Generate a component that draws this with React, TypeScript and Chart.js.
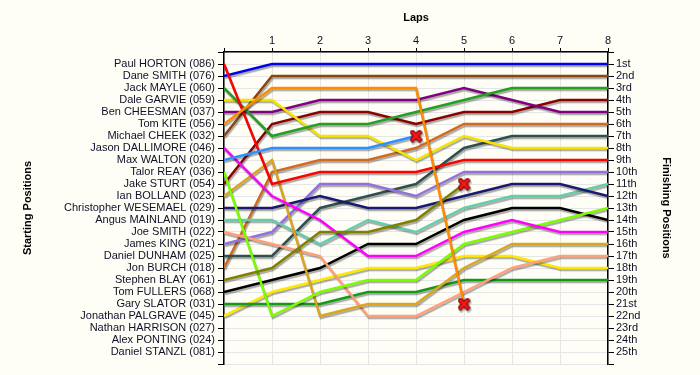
import React, { useEffect, useRef } from 'react';
import { Chart, registerables } from 'chart.js';

Chart.register(...registerables);

const BG = '#fefef6';
const FONT = '"Liberation Sans", Arial, sans-serif';
const TEXT = '#101028';

const laps = [0, 1, 2, 3, 4, 5, 6, 7, 8];

const driverNames = [
  'Paul HORTON (086)', 'Dane SMITH (076)', 'Jack MAYLE (060)', 'Dale GARVIE (059)',
  'Ben CHEESMAN (037)', 'Tom KITE (056)', 'Michael CHEEK (032)', 'Jason DALLIMORE (046)',
  'Max WALTON (020)', 'Talor REAY (036)', 'Jake STURT (054)', 'Ian BOLLAND (023)',
  'Christopher WESEMAEL (029)', 'Angus MAINLAND (019)', 'Joe SMITH (022)', 'James KING (021)',
  'Daniel DUNHAM (025)', 'Jon BURCH (018)', 'Stephen BLAY (061)', 'Tom FULLERS (068)',
  'Gary SLATOR (031)', 'Jonathan PALGRAVE (045)', 'Nathan HARRISON (027)', 'Alex PONTING (024)',
  'Daniel STANZL (081)',
];

const finishLabels = [
  '1st', '2nd', '3rd', '4th', '5th', '6th', '7th', '8th', '9th', '10th', '11th', '12th', '13th',
  '14th', '15th', '16th', '17th', '18th', '19th', '20th', '21st', '22nd', '23rd', '24th', '25th',
];

const posHorton = [1, 11, 10, 10, 10, 9, 9, 9, 9];
const posDSmith = [2, 1, 1, 1, 1, 1, 1, 1, 1];
const posMayle = [3, 7, 6, 6, 5, 4, 3, 3, 3];
const posGarvie = [4, 4, 7, 7, 9, 7, 8, 8, 8];
const posCheesman = [5, 5, 4, 4, 4, 3, 4, 5, 5];
const posKite = [6, 3, 3, 3, 3, 21];
const posCheek = [7, 2, 2, 2, 2, 2, 2, 2, 2];
const posDallimore = [8, 12, 14, 17, 17, 15, 14, 15, 15];
const posWalton = [9, 8, 8, 8, 7];
const posReay = [10, 22, 20, 19, 19, 16, 15, 14, 13];
const posSturt = [11, 6, 5, 5, 6, 5, 5, 4, 4];
const posBolland = [12, 9, 22, 21, 21, 18, 16, 16, 16];
const posWesemael = [13, 13, 12, 13, 13, 12, 11, 11, 12];
const posMainland = [14, 14, 16, 14, 15, 13, 12, 12, 11];
const posJSmith = [15, 16, 17, 22, 22, 20, 18, 17, 17];
const posKing = [16, 15, 11, 11, 12, 10, 10, 10, 10];
const posDunham = [17, 17, 13, 12, 11, 8, 7, 7, 7];
const posBurch = [18, 10, 9, 9, 8, 6, 6, 6, 6];
const posBlay = [19, 18, 15, 15, 14, 11];
const posFullers = [20, 19, 18, 16, 16, 14, 13, 13, 14];
const posSlator = [21, 21, 21, 20, 20, 19, 19, 19, 19];
const posPalgrave = [22, 20, 19, 18, 18, 17, 17, 18, 18];

const positionsList = [
  posHorton, posDSmith, posMayle, posGarvie, posCheesman, posKite, posCheek, posDallimore,
  posWalton, posReay, posSturt, posBolland, posWesemael, posMainland, posJSmith, posKing,
  posDunham, posBurch, posBlay, posFullers, posSlator, posPalgrave,
];

// drivers who retired: index of driver -> lap where the cross is shown
const retiredDrivers = [5, 8, 18];

const lineColors = [
  '#ff0000', '#0000ee', '#22a022', '#f5e400', '#800080', '#ff8c00', '#8b4513', '#ff00ff',
  '#2e8fff', '#7cfc00', '#8b0000', '#daa520', '#191970', '#66cdaa', '#ffa07a', '#9370db',
  '#2f4f4f', '#d2691e', '#808000', '#000000', '#169a16', '#ffe800',
];

const posTicks = Array.from({ length: 27 }, (_, i) => i);

function makeCross(): HTMLCanvasElement {
  const c = document.createElement('canvas');
  c.width = 13;
  c.height = 13;
  const g = c.getContext('2d')!;
  g.lineCap = 'round';
  const draw = () => {
    g.beginPath();
    g.moveTo(3, 3);
    g.lineTo(10, 10);
    g.moveTo(10, 3);
    g.lineTo(3, 10);
    g.stroke();
  };
  g.strokeStyle = '#6a0000';
  g.lineWidth = 5;
  draw();
  g.strokeStyle = '#ff1414';
  g.lineWidth = 3;
  draw();
  return c;
}

const bgPlugin = {
  id: 'bg',
  beforeDraw(chart: any) {
    const c = chart.ctx;
    c.save();
    c.fillStyle = BG;
    c.fillRect(0, 0, chart.width, chart.height);
    c.restore();
  },
};

const shadowPlugin = {
  id: 'lineShadow',
  beforeDatasetDraw(chart: any) {
    const c = chart.ctx;
    c.save();
    c.shadowColor = 'rgba(0,0,0,0.33)';
    c.shadowOffsetX = 1;
    c.shadowOffsetY = 2;
    c.shadowBlur = 1;
  },
  afterDatasetDraw(chart: any) {
    chart.ctx.restore();
  },
};

export default function App() {
  const ref = useRef<HTMLCanvasElement>(null);

  useEffect(() => {
    document.body.style.margin = '0';
    document.body.style.background = BG;
    const canvas = ref.current!;
    const cross = makeCross();

    const datasets = positionsList.map((pos, i) => {
      const retired = retiredDrivers.includes(i);
      const lastIdx = retired ? pos.length - 1 : -1;
      return {
        label: driverNames[i],
        data: pos.map((p, j) => ({ x: laps[j], y: p })),
        borderColor: lineColors[i],
        backgroundColor: lineColors[i],
        borderWidth: 2.5,
        tension: 0,
        fill: false,
        pointStyle: (ctx: any) => (ctx.dataIndex === lastIdx ? cross : 'circle'),
        pointRadius: (ctx: any) => (ctx.dataIndex === lastIdx ? 6 : 0),
        pointHoverRadius: 0,
        order: retired ? 0 : 1,
      };
    });

    const titleFont = { family: FONT, size: 11, weight: 'bold' as const };
    const tickFont = { family: FONT, size: 11 };

    const chart = new Chart(canvas, {
      type: 'line',
      data: { datasets: datasets as any },
      plugins: [bgPlugin, shadowPlugin],
      options: {
        animation: false,
        responsive: false,
        devicePixelRatio: 1,
        layout: { padding: { top: 0, left: 0, right: 0, bottom: 11 } },
        plugins: { legend: { display: false }, tooltip: { enabled: false } },
        events: [],
        scales: {
          x: {
            type: 'linear',
            position: 'top',
            min: 0,
            max: 8,
            afterBuildTicks: (s: any) => {
              s.ticks = laps.map((v) => ({ value: v }));
            },
            afterFit: (s: any) => {
              s.height = 52;
            },
            ticks: {
              autoSkip: false,
              maxRotation: 0,
              padding: 0,
              color: TEXT,
              font: tickFont,
              callback: (v: any) => (v === 0 ? '' : String(v)),
            },
            grid: { color: '#e6e6e6', tickColor: '#000', tickLength: 4, lineWidth: 1 },
            border: { display: true, color: '#000', width: 1.5 },
            title: {
              display: true,
              text: 'Laps',
              color: '#000',
              font: titleFont,
              padding: { top: 11, bottom: 0 },
            },
          },
          y: {
            type: 'linear',
            position: 'left',
            min: 0,
            max: 26,
            reverse: true,
            afterBuildTicks: (s: any) => {
              s.ticks = posTicks.map((v) => ({ value: v }));
            },
            afterFit: (s: any) => {
              s.width = 224;
            },
            ticks: {
              autoSkip: false,
              padding: 3,
              color: TEXT,
              font: tickFont,
              callback: (v: any) => driverNames[v - 1] ?? '',
            },
            grid: { color: '#e6e6e6', tickColor: '#000', tickLength: 6, lineWidth: 1 },
            border: { display: true, color: '#000', width: 1.5 },
            title: {
              display: true,
              text: 'Starting Positions',
              color: '#000',
              font: titleFont,
              padding: { top: 21, bottom: 0 },
            },
          },
          y2: {
            type: 'linear',
            position: 'right',
            min: 0,
            max: 26,
            reverse: true,
            afterBuildTicks: (s: any) => {
              s.ticks = posTicks.map((v) => ({ value: v }));
            },
            afterFit: (s: any) => {
              s.width = 92;
            },
            ticks: {
              autoSkip: false,
              padding: 2,
              color: TEXT,
              font: tickFont,
              callback: (v: any) => finishLabels[v - 1] ?? '',
            },
            grid: { drawOnChartArea: false, color: '#000', tickColor: '#000', tickLength: 6 },
            border: { display: true, color: '#000', width: 1.5 },
            title: {
              display: true,
              text: 'Finishing Positions',
              color: '#000',
              font: titleFont,
              padding: { top: 27, bottom: 0 },
            },
          },
        },
      } as any,
    });

    return () => chart.destroy();
  }, []);

  return (
    <div style={{ width: 700, height: 375, background: BG }}>
      <canvas ref={ref} width={700} height={375} style={{ display: 'block' }} />
    </div>
  );
}
